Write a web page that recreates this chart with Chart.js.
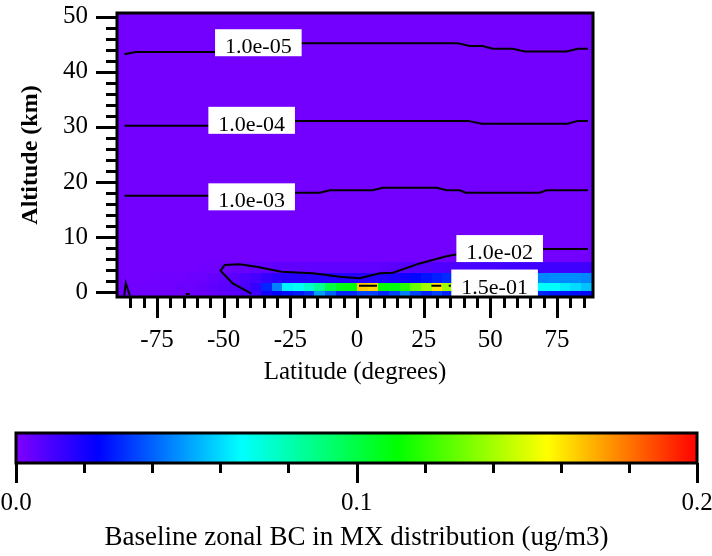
<!DOCTYPE html>
<html><head><meta charset="utf-8">
<script src="https://cdn.jsdelivr.net/npm/chart.js@4.4.1/dist/chart.umd.min.js"></script>
<style>
html,body{margin:0;padding:0;background:#fff;}
#wrap{width:712px;height:556px;position:relative;overflow:hidden;}
.box{position:absolute;left:0;}
canvas{display:block;}
</style>
</head><body>
<div id="wrap">
  <div class="box" style="top:0;width:712px;height:400px"><canvas id="main" width="712" height="400"></canvas></div>
  <div class="box" style="top:400px;width:712px;height:156px"><canvas id="cbar" width="712" height="156"></canvas></div>
</div>
<script>
// ---------------- DATA ----------------
// latitude cell centres (degrees), 4-degree cells
const latCenters = [-90,-86,-82,-78,-74,-70,-66,-62,-58,-54,-50,-46,-42,-38,-34,-30,-26,-22,-18,-14,-10,-6,-2,2,6,10,14,18,22,26,30,34,38,42,46,50,54,58,62,66,70,74,78,82,86,90];
// altitude layer edges (km) for the rows below
const altEdges = [-0.9, 0.25, 1.6, 3.4, 5.4];
// BC concentration (ug/m3), one array per altitude layer
const bcLayer0 = [0.003,0.003,0.003,0.003,0.003,0.003,0.003,0.004,0.004,0.005,0.006,0.007,0.009,
  0.012,0.02,0.024,0.026,0.028,0.032,0.05,0.04,0.03,0.03,
  0.035,0.035,0.03,0.035,0.045,0.035,0.03,0.035,0.03,
  0.03,0.03,0.03,0.03,0.03,0.03,0.03,0.03,
  0.03,0.028,0.028,0.026,0.025,0.025];
const bcLayer1 = [0.003,0.003,0.003,0.003,0.003,0.003,0.004,0.004,0.005,0.006,0.007,0.008,0.01,
  0.014,0.03,0.045,0.064,0.068,0.075,0.085,0.1,0.108,0.11,
  0.165,0.163,0.112,0.11,0.118,0.13,0.14,0.16,0.14,
  0.125,0.115,0.105,0.095,0.088,0.08,0.075,0.07,
  0.066,0.066,0.063,0.06,0.056,0.052];
const bcLayer2 = [0.0025,0.0025,0.0025,0.0025,0.003,0.003,0.003,0.004,0.004,0.005,0.006,0.007,0.009,
  0.011,0.014,0.016,0.017,0.017,0.017,0.017,0.017,0.017,0.017,
  0.017,0.017,0.018,0.019,0.021,0.025,0.027,0.029,0.031,
  0.034,0.036,0.038,0.04,0.042,0.043,0.044,0.045,
  0.046,0.047,0.047,0.047,0.046,0.044];
const bcLayer3 = [0.0025,0.0025,0.0025,0.0025,0.0025,0.0025,0.0025,0.0025,0.003,0.003,0.0035,0.004,0.0045,
  0.005,0.0055,0.006,0.006,0.006,0.006,0.006,0.006,0.006,0.006,
  0.006,0.006,0.0065,0.007,0.0075,0.008,0.0085,0.009,0.0095,
  0.01,0.0105,0.011,0.011,0.0115,0.012,0.012,0.012,
  0.012,0.012,0.012,0.012,0.012,0.012];
const bcBackground = 0.0025; // free troposphere / stratosphere above the layers

// contour lines (lat, alt)
const c1e5Lat = [-87.2,-83,-52,-22,37.8,42.2,47.1,50.9,58.4,62.9,78.6,82.8,86.6];
const c1e5Alt = [43.2,43.6,43.6,45.2,45.2,44.7,44.7,44.2,44.2,43.7,43.7,44.2,44.2];
const c1e4Lat = [-87.2,-56,-23,41.6,46.8,79,82.8,86.6];
const c1e4Alt = [30.2,30.2,31.1,31.1,30.6,30.6,31.1,31.1];
const c1e3Lat = [-87.2,-56,-23,-14,-10.2,5.9,9.6,29.9,33.6,38.5,40.8,68.5,71.1,86.6];
const c1e3Alt = [17.5,17.5,18.05,18.05,18.5,18.5,18.96,18.96,18.5,18.5,18.05,18.05,18.5,18.5];
const c1e2Lat = [-39.6,-46.6,-51.2,-49.6,-44,-37.7,-28.3,-16.5,-6.5,1.0,8.5,13.5,23.5,33.5,45,69.6,86.6, -80, -87.3,-86.7,-85.2, -70, -64.2,-62.7];
const c1e2Alt = [-0.3,1.58,3.87,4.9,5.04,4.6,3.69,3.4,2.78,2.49,3.4,3.5,5.2,6.5,7.5,7.8,7.8, null, -0.6,1.6,-0.6, null, -0.35,-0.35];
const c15e1Lat = [0.75,7.5, 15, 27.9,31.6, 33, 34.4,35.2];
const c15e1Alt = [1.15,1.15, null, 1.15,1.15, null, 1.15,1.15];

// contour labels
const contourLabels = ['1.0e-05','1.0e-04','1.0e-03','1.0e-02','1.5e-01'];
const contourLabelLat = [-37.0,-39.5,-39.5,53.5,51.6];
const contourLabelAlt = [45.3,31.2,17.3,7.9,1.64];

// ticks
const xTickValues = [-75,-50,-25,0,25,50,75];
const xTickLabels = ['-75','-50','-25','0','25','50','75'];
const yTickValues = [0,10,20,30,40,50];
const yTickLabels = ['0','10','20','30','40','50'];
const cbarTickValues = [0,0.1,0.2];
const cbarTickLabels = ['0.0','0.1','0.2'];

// colour map
const cmapStops = [0,0.12,0.33,0.56,0.78,1];
const cmapColors = [[128,0,255],[0,0,255],[0,255,255],[0,255,0],[255,255,0],[255,0,0]];
const cmapMin = 0, cmapMax = 0.2;

// ---------------- HELPERS ----------------
function colorFor(v){
  let t = (v - cmapMin)/(cmapMax - cmapMin);
  t = Math.max(0, Math.min(1, t));
  for (let i=0;i<cmapStops.length-1;i++){
    if (t <= cmapStops[i+1]){
      const f = (t - cmapStops[i])/(cmapStops[i+1]-cmapStops[i]);
      const a = cmapColors[i], b = cmapColors[i+1];
      return 'rgb(' + a.map((c,k)=>Math.round(c + (b[k]-c)*f)).join(',') + ')';
    }
  }
  return 'rgb(' + cmapColors[cmapColors.length-1].join(',') + ')';
}
function pts(lats, alts){ return lats.map((v,i)=>({x:v, y:alts[i]})); }
function noPad(s){ s.paddingTop = 0; s.paddingBottom = 0; s.paddingLeft = 0; s.paddingRight = 0; }

const SERIF = '"Liberation Serif","Times New Roman",serif';
Chart.defaults.font.family = SERIF;
Chart.defaults.color = '#000';

const bcLayers = [bcLayer0, bcLayer1, bcLayer2, bcLayer3];
const cellHalf = 2;

const heatPlugin = {
  id: 'heat',
  beforeDatasetsDraw(chart){
    const {ctx, chartArea:a, scales:{x, y}} = chart;
    ctx.save();
    ctx.beginPath(); ctx.rect(a.left, a.top, a.right-a.left, a.bottom-a.top); ctx.clip();
    ctx.fillStyle = colorFor(bcBackground);
    ctx.fillRect(a.left, a.top, a.right-a.left, a.bottom-a.top);
    bcLayers.forEach((row, r) => {
      const yt = Math.round(y.getPixelForValue(altEdges[r+1]));
      const yb = Math.round(y.getPixelForValue(altEdges[r]));
      row.forEach((v, i) => {
        const x0 = Math.round(x.getPixelForValue(latCenters[i]-cellHalf));
        const x1 = Math.round(x.getPixelForValue(latCenters[i]+cellHalf));
        ctx.fillStyle = colorFor(v);
        ctx.fillRect(x0, yt, x1-x0, yb-yt);
      });
    });
    ctx.restore();
  }
};

const labelPlugin = {
  id: 'clabels',
  afterDatasetsDraw(chart){
    const {ctx, scales:{x, y}} = chart;
    ctx.save();
    ctx.font = '22px ' + SERIF;
    contourLabels.forEach((t, i) => {
      const cx = x.getPixelForValue(contourLabelLat[i]);
      const cy = y.getPixelForValue(contourLabelAlt[i]);
      const w = ctx.measureText(t).width + 20, h = 27;
      ctx.fillStyle = '#fff';
      ctx.fillRect(cx - w/2, cy - h/2, w, h);
      ctx.fillStyle = '#000';
      ctx.textAlign = 'center'; ctx.textBaseline = 'alphabetic';
      ctx.fillText(t, cx, cy + h/2 - 3);
    });
    ctx.restore();
  }
};

const framePlugin = {
  id: 'frame',
  afterDraw(chart){
    const {ctx, chartArea:a, scales:{x, y}} = chart;
    ctx.save();
    ctx.strokeStyle = '#000';
    ctx.lineWidth = 3;
    ctx.strokeRect(a.left, a.top, a.right-a.left, a.bottom-a.top);
    ctx.beginPath();
    for (let v = -85; v <= 85; v += 5){
      const px = Math.round(x.getPixelForValue(v)) + 0.5;
      const len = (v % 25 === 0) ? 21 : 11;
      ctx.moveTo(px, a.bottom); ctx.lineTo(px, a.bottom + len);
    }
    for (let v = 0; v <= 50; v += 2){
      const py = Math.round(y.getPixelForValue(v)) + 0.5;
      const len = (v % 10 === 0) ? 21 : 11;
      ctx.moveTo(a.left, py); ctx.lineTo(a.left - len, py);
    }
    ctx.stroke();
    ctx.restore();
  }
};

const lineDs = (data) => ({data, showLine:true, borderColor:'#000', borderWidth:2, pointRadius:0, tension:0, fill:false, spanGaps:false});

new Chart(document.getElementById('main'), {
  type: 'scatter',
  data: { datasets: [
    lineDs(pts(c1e5Lat, c1e5Alt)),
    lineDs(pts(c1e4Lat, c1e4Alt)),
    lineDs(pts(c1e3Lat, c1e3Alt)),
    lineDs(pts(c1e2Lat, c1e2Alt)),
    lineDs(pts(c15e1Lat, c15e1Alt))
  ]},
  options: {
    responsive: false, animation: false, devicePixelRatio: 1,
    layout: { padding: { top: 13, right: 119, left: 0, bottom: 0 } },
    plugins: { legend: {display:false}, tooltip: {enabled:false} },
    scales: {
      x: {
        type: 'linear', min: -90, max: 88.5, position: 'bottom',
        grid: {display:false, drawTicks:false}, border: {display:false},
        afterBuildTicks: s => { s.ticks = xTickValues.map(v => ({value:v})); },
        ticks: { padding: 28, font: {size:25}, color:'#000', maxRotation:0, autoSkip:false,
                 callback: (v, i) => xTickLabels[i] },
        title: { display:true, text:'Latitude (degrees)', font:{size:25}, color:'#000', padding:{top:0, bottom:13} },
        afterFit: s => { s.height = 103; noPad(s); }
      },
      y: {
        type: 'linear', min: -0.9, max: 50.7, position: 'left',
        grid: {display:false, drawTicks:false}, border: {display:false},
        afterBuildTicks: s => { s.ticks = yTickValues.map(v => ({value:v})); },
        ticks: { padding: 29, font: {size:25}, color:'#000', autoSkip:false,
                 callback: (v, i) => yTickLabels[i] },
        title: { display:true, text:'Altitude (km)', font:{size:24, weight:'bold'}, color:'#000', padding:{top:16, bottom:0} },
        afterFit: s => { s.width = 117; noPad(s); }
      }
    }
  },
  plugins: [heatPlugin, labelPlugin, framePlugin]
});

const cbarPlugin = {
  id: 'cbarDraw',
  afterDraw(chart){
    const {ctx, chartArea:a, scales:{x}} = chart;
    const x0 = x.getPixelForValue(cmapMin), x1 = x.getPixelForValue(cmapMax);
    ctx.save();
    const g = ctx.createLinearGradient(x0, 0, x1, 0);
    cmapStops.forEach((s, i) => g.addColorStop(s, 'rgb(' + cmapColors[i].join(',') + ')'));
    ctx.fillStyle = g;
    ctx.fillRect(x0, a.top, x1 - x0, a.bottom - a.top);
    ctx.strokeStyle = '#000'; ctx.lineWidth = 3;
    ctx.strokeRect(x0, a.top, x1 - x0, a.bottom - a.top);
    ctx.beginPath();
    for (let k = 0; k <= 10; k++){
      const v = cmapMin + (cmapMax - cmapMin) * k / 10;
      const px = Math.round(x.getPixelForValue(v)) + 0.5;
      const len = (k % 5 === 0) ? 20 : 10;
      ctx.moveTo(px, a.bottom); ctx.lineTo(px, a.bottom + len);
    }
    ctx.stroke();
    ctx.restore();
  }
};

new Chart(document.getElementById('cbar'), {
  type: 'scatter',
  data: { datasets: [{ data: [] }] },
  options: {
    responsive: false, animation: false, devicePixelRatio: 1,
    layout: { padding: { top: 33, left: 16, right: 15, bottom: 0 } },
    plugins: { legend: {display:false}, tooltip: {enabled:false} },
    scales: {
      x: {
        type: 'linear', min: cmapMin, max: cmapMax, position: 'bottom',
        grid: {display:false, drawTicks:false}, border: {display:false},
        afterBuildTicks: s => { s.ticks = cbarTickValues.map(v => ({value:v})); },
        ticks: { padding: 25, font: {size:25}, color:'#000', maxRotation:0, autoSkip:false,
                 callback: (v, i) => cbarTickLabels[i] },
        title: { display:true, text:'Baseline zonal BC in MX distribution (ug/m3)', font:{size:27}, color:'#000', padding:{top:0, bottom:2} },
        afterFit: s => { s.height = 93; noPad(s); }
      },
      y: { display:false, min:0, max:1 }
    }
  },
  plugins: [cbarPlugin]
});
</script>
</body></html>
